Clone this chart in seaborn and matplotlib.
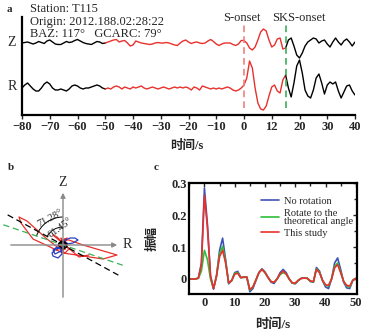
import numpy as np
import pandas as pd
import matplotlib
matplotlib.use("Agg")
import matplotlib.pyplot as plt
import seaborn as sns
from matplotlib.patches import Arc
from matplotlib.ticker import MultipleLocator

# ---------------- data ----------------
# panel a: waveform samples (1 s spacing), amplitude in plot units
t_a = list(range(-80, 41))
z_amp = [0, 0.5, 1, 0, -1, 0, 1.5, 0.5, -0.5, 2, 3, 1, -1, -1.5, -1.5, 0, 1.5, 0.5, 1, 2.5,
         3.5, 2, 0.5, -0.5, -1, -1.5, 0, 1.5, 1, -0.5, 0,
         1, 2, 3, 3.5, 1, 2, 2.5, 0, -3, -2, 2, 1, 0, -0.5, -1, -1.5, -1, 0, 0.5, 0,
         0, 0.5, 0, -1, -2, -2.5, 0, 2, 3, 1, -0.5, 0.5, 1, 0, -0.5, 0, 2, 3.5, 1.5, -1,
         -2.5, -1, 0, 0,
         0, -1.5, -2.5, -1, 2.5, 2.5, 0, -5, -7, -4, 3, 11, 14, 12, 3, -4, -2, 4, 5, -6,
         -5, 3, 5, -3, -12, -15, -10, -3, 1, 3, 5, 4, 0, 2, 3, -1, -4, 1, 5, 1,
         -2, 2, 4, 1, -3, 1]
r_amp = [0, 3, 5, 2, -1, -3, -3, 0, 4, 6, 4, 0, -2, -2, -1, -2, -3, -1, 2, 3,
         2, 0, -1, 0, 0, 1, 2, 3, 2, 0, -1,
         0, -1, 1, 2, 1, -1, 1, 0, -1, 1, 0, 1, 2, 0, -1, 0, 1, 0, -1, 0,
         1, 0, -1, 0, 1, 0, 1, 0, 1, 0, -2, 1, 0, -2, 2, 1, 0, -1, 0, -1,
         0, -1, 0, 1,
         0, -2, -3, -2, 0, 3, 10, 27, 20, 0, -15, -21, -22, -18, -8, 1, 3, -3, -5, 8,
         13, 0, -9, 5, 22, 28, 15, -2, -8, -10, -2, 10, 14, 5, -6, 3, 6, 4, 6, -3,
         -10, -4, 2, 3, -3, -7]
s_onset = 0
sks_onset = 15
a_xticks = [-80, -70, -60, -50, -40, -30, -20, -10, 0, 10, 20, 30, 40]
a_xticklabels = ["\u221280", "\u221270", "\u221260", "\u221250", "\u221240", "\u221230",
                 "\u221220", "\u221210", "0", "12", "20", "30", "40"]

# panel b: angles and extra particle-motion loops
angle_theory = 71.28
angle_study = 61.45
blue_R = [0, 1, 3.5, 6, 7.5, 5, 2, 0, -2.5, -4, -5.5, -5, -2.5, -0.5, -1, -3, -5, -4, -1, 1, 2, 0, -1, 0]
blue_Z = [0, 2.5, 3.5, 3.5, 2.5, 1, 0.5, -1, -1.5, -2.5, -4, -5.5, -6.5, -4.5, -2, -1, -2.5, -4.5, -3, -1, 1, 2, 0.5, 0]
black_R = [-2, 1, 2, -1, -2.5, 0, 2, 1, -1.5, 0]
black_Z = [1, -1, 0.5, 2, 0, -2, -1, 1.5, 1, 0]

# panel c: amplitude curves
t_c = list(range(-5, 51))
amp_none = [0, 0, 0, 0.003, 0.05, 0.285, 0.17, 0.01, -0.032, 0.01, 0.09, 0.128, 0.06, -0.015,
            -0.005, 0.02, 0.024, 0.005, 0.005, 0.006, -0.04, -0.03, -0.005, 0.02, 0.032, 0.022,
            0.005, -0.01, -0.014, 0.0, 0.02, 0.03, 0.02, 0.0, -0.013, -0.015, -0.005, 0.002,
            0.003, 0.002, -0.008, -0.01, 0.036, 0.025, -0.005, -0.025, -0.03, 0.0, 0.05, 0.066,
            0.03, -0.01, -0.028, -0.03, -0.005, 0.002]
amp_theory = [0, 0, 0, 0.002, 0.025, 0.09, 0.06, 0.0, -0.03, 0.01, 0.08, 0.102, 0.055, -0.012,
              -0.005, 0.018, 0.02, 0.004, 0.006, 0.006, -0.035, -0.025, -0.003, 0.02, 0.03, 0.02,
              0.005, -0.008, -0.01, 0.0, 0.014, 0.02, 0.015, 0.0, -0.013, -0.014, -0.004, 0.002,
              0.003, 0.002, -0.007, -0.009, 0.032, 0.022, -0.004, -0.02, -0.022, 0.0, 0.04, 0.05,
              0.022, -0.008, -0.022, -0.025, -0.004, 0.002]
amp_study = [0, 0, 0, 0.003, 0.045, 0.262, 0.16, 0.01, -0.03, 0.01, 0.07, 0.09, 0.05, -0.012,
             -0.005, 0.015, 0.018, 0.004, 0.006, 0.006, -0.033, -0.025, -0.003, 0.02, 0.03, 0.02,
             0.005, -0.008, -0.01, 0.0, 0.016, 0.025, 0.016, 0.0, -0.012, -0.013, -0.004, 0.002,
             0.003, 0.002, -0.006, -0.008, 0.03, 0.02, -0.004, -0.018, -0.02, 0.0, 0.035, 0.045,
             0.02, -0.008, -0.02, -0.022, -0.004, 0.002]
c_labels = ["No rotation", "Rotate to the\ntheoretical angle", "This study"]
c_colors = ["#3f52b4", "#2fbf3a", "#e8312c"]
c_xticks = [0, 10, 20, 30, 40, 50]
c_yticks = [0, 0.1, 0.2, 0.3]
c_yticklabels = ["0", "0.1", "0.2", "0.3"]

# ---------------- style ----------------
sns.set_theme(style="white")
plt.rcParams["font.family"] = ["Liberation Serif", "Noto Sans CJK SC"]
plt.rcParams["axes.unicode_minus"] = True
RED = "#e8312c"
W, H = 374, 332

fig = plt.figure(figsize=(W / 100, H / 100), dpi=100)
fig.patch.set_facecolor("white")


def fx(x):
    return x / W


def fy(y):
    return 1 - y / H


# ---------------- panel a ----------------
axa = fig.add_axes([fx(22), 217 / H, 333 / W, 98 / H])
df_a = pd.DataFrame({"t": t_a, "Z": z_amp, "R": r_amp})
z_base, r_base = 72, 27
for lo, hi, col in [(-80, -50, "black"), (-50, 15, RED), (15, 40, "black")]:
    sub = df_a[(df_a.t >= lo) & (df_a.t <= hi)]
    sns.lineplot(x=sub.t, y=sub.Z + z_base, color=col, lw=1.0, estimator=None, ax=axa)
    sns.lineplot(x=sub.t, y=sub.R + r_base, color=col, lw=1.0, estimator=None, ax=axa)
axa.vlines(s_onset, 7, 90, colors="#f08080", linestyles=(0, (4, 2.5)), lw=1.2)
axa.vlines(sks_onset, 7, 90, colors="#3bb05a", linestyles=(0, (4, 2.5)), lw=1.2)
axa.set_xlim(-80, 40)
axa.set_ylim(0, 98)
for s in ["top", "right"]:
    axa.spines[s].set_visible(False)
for s in ["left", "bottom"]:
    axa.spines[s].set_linewidth(1.6)
    axa.spines[s].set_color("black")
axa.set_yticks([])
axa.set_xticks(a_xticks)
axa.set_xticklabels(a_xticklabels, fontsize=9, fontweight="bold")
axa.tick_params(axis="x", direction="out", length=3, width=1, pad=1.5, bottom=True)
axa.set_xlabel("时间/s", fontsize=9, fontweight="bold")
axa.xaxis.set_label_coords(0.4955, -0.255)
axa.set_ylabel("")
axa.set_facecolor("none")

fig.text(fx(7), fy(10), "a", fontsize=8, fontweight="bold", va="center")
fig.text(fx(30), fy(9), "Station: T115", fontsize=9, va="center")
fig.text(fx(30), fy(22), "Origin: 2012.188.02:28:22", fontsize=9, va="center")
fig.text(fx(30), fy(34), "BAZ: 117°   GCARC: 79°", fontsize=9, va="center")
fig.text(fx(223), fy(18), "S-onset", fontsize=9, va="center")
fig.text(fx(272), fy(18), "SKS-onset", fontsize=9, va="center")
fig.text(fx(12), fy(42), "Z", fontsize=10, ha="center", va="center")
fig.text(fx(12), fy(87), "R", fontsize=10, ha="center", va="center")

# ---------------- panel b ----------------
axb = fig.add_axes([0, 22 / H, 140 / W, 135 / H])
axb.set_xlim(-31.5, 38.5)
axb.set_ylim(-32.5, 35)
axb.axis("off")
gray = "#8a8a8a"
axb.annotate("", xy=(28.5, 0), xytext=(-27.5, 0),
             arrowprops=dict(arrowstyle="-|>", color=gray, lw=1.0, mutation_scale=7))
axb.annotate("", xy=(0, 27.5), xytext=(0, -27.5),
             arrowprops=dict(arrowstyle="-|>", color=gray, lw=1.0, mutation_scale=7))
axb.text(0, 31, "Z", fontsize=10, ha="center", va="center")
axb.text(30, 0, "R", fontsize=10, ha="left", va="center")

pm = df_a[(df_a.t >= -50) & (df_a.t <= 15)]
sns.lineplot(x=pm.R.values, y=pm.Z.values, sort=False, estimator=None, color=RED, lw=0.9, ax=axb)
sns.lineplot(x=blue_R, y=blue_Z, sort=False, estimator=None, color="#2b3fbf", lw=0.9, ax=axb)
sns.lineplot(x=black_R, y=black_Z, sort=False, estimator=None, color="black", lw=0.9, ax=axb)

L = 31.5
for ang, col in [(angle_study, "black"), (angle_theory, "#3bb05a")]:
    th = np.deg2rad(ang)
    dx, dy = -np.sin(th) * L, np.cos(th) * L
    axb.plot([dx, -dx], [dy, -dy], color=col, lw=0.9, linestyle=(0, (5, 3)))
axb.add_patch(Arc((0, 0), 28, 28, theta1=90, theta2=90 + angle_theory, color="black", lw=0.7))
axb.add_patch(Arc((0, 0), 18, 18, theta1=90, theta2=90 + angle_study, color="black", lw=0.7))
axb.text(-6.3, 13.3, f"{angle_theory:.2f}°", fontsize=7.5, rotation=28, ha="center", va="center")
axb.text(-1.3, 8.4, f"{angle_study:.2f}°", fontsize=7.5, rotation=36, ha="center", va="center")
fig.text(fx(8), fy(168), "b", fontsize=8, fontweight="bold", va="center")

# ---------------- panel c ----------------
axc = fig.add_axes([fx(189.3), 37.7 / H, 167.4 / W, 111.6 / H])
df_c = pd.DataFrame({
    "t": t_c * 3,
    "amp": amp_none + amp_theory + amp_study,
    "method": [c_labels[0]] * len(t_c) + [c_labels[1]] * len(t_c) + [c_labels[2]] * len(t_c),
})
sns.lineplot(data=df_c, x="t", y="amp", hue="method", palette=dict(zip(c_labels, c_colors)),
             hue_order=c_labels, estimator=None, lw=1.2, ax=axc)
axc.set_xlim(-5, 50.3)
axc.set_ylim(-0.048, 0.302)
axc.set_xticks(c_xticks)
axc.set_xticklabels([str(v) for v in c_xticks], fontsize=9, fontweight="bold")
axc.set_yticks(c_yticks)
axc.set_yticklabels(c_yticklabels, fontsize=9, fontweight="bold")
axc.xaxis.set_minor_locator(MultipleLocator(5))
axc.yaxis.set_minor_locator(MultipleLocator(0.05))
axc.tick_params(which="both", direction="in", top=True, right=True, width=1, pad=2)
axc.tick_params(which="major", length=3)
axc.tick_params(which="minor", length=2)
for s in axc.spines.values():
    s.set_linewidth(1.6)
    s.set_color("black")
axc.set_xlabel("时间/s", fontsize=9.5, fontweight="bold")
axc.xaxis.set_label_coords(0.5, -0.212)
axc.set_ylabel("振幅", fontsize=9, fontweight="bold")
axc.yaxis.set_label_coords(-0.187, 0.5)
handles, labels = axc.get_legend_handles_labels()
leg = axc.legend(handles, labels, loc="upper left", bbox_to_anchor=(0.395, 0.925), frameon=False,
                 fontsize=7.5, handlelength=1.8, handletextpad=0.4, labelspacing=0.3, borderpad=0)
for txt in leg.get_texts():
    txt.set_linespacing(0.85)
for ln in leg.get_lines():
    ln.set_linewidth(1.2)
fig.text(fx(154), fy(167), "c", fontsize=8, fontweight="bold", va="center")

fig.savefig("out.png", dpi=100, facecolor="white")
